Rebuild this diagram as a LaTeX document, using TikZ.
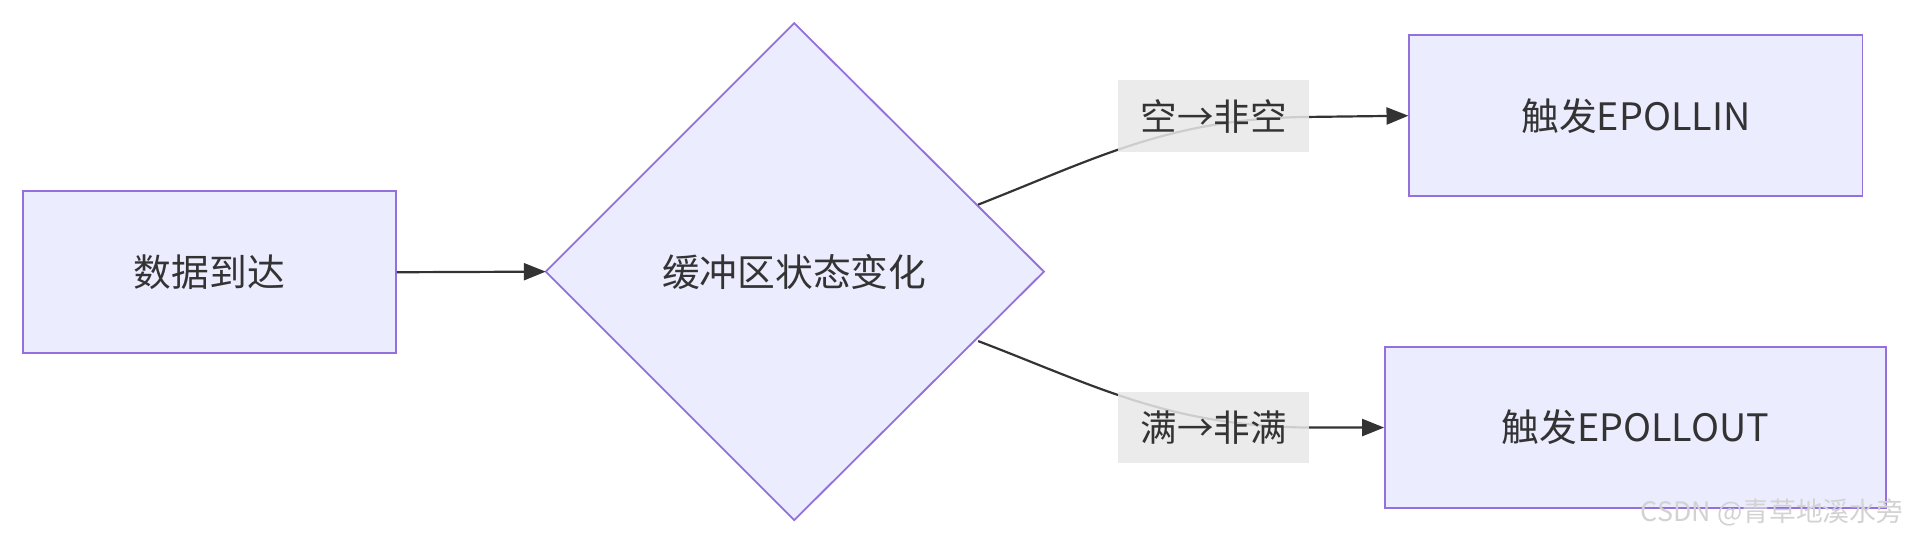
\documentclass[tikz,border=0pt]{standalone}
\usepackage{fontspec}
\setmainfont{Noto Sans CJK SC}
\usetikzlibrary{arrows.meta}
\definecolor{nfill}{HTML}{ECECFF}
\definecolor{nline}{HTML}{9370DB}
\definecolor{ink}{HTML}{333333}
\definecolor{lbg}{HTML}{E8E8E8}
\begin{document}
\begin{tikzpicture}[x=1pt,y=1pt,
  box/.style={draw=nline,fill=nfill,line width=1.5pt,inner sep=0pt,font=\fontsize{31}{36}\selectfont,text=ink},
  lbl/.style={fill=lbg,fill opacity=0.85,text opacity=1,inner sep=0pt,minimum width=157,minimum height=59,font=\fontsize{30}{34}\selectfont,text=ink},
  edge/.style={draw=ink,line width=1.8pt,-{Triangle[length=18pt,width=14pt]}}]
\useasboundingbox (0,0) rectangle (1568,447);
\node[box,minimum width=306,minimum height=133] (a) at (172,223.5) {数据到达};
\fill[nfill] (448,224) -- (652,428) -- (857,224) -- (652,20) -- cycle;
\draw[nline,line width=1.5pt] (448,224) -- (652,428) -- (857,224) -- (652,20) -- cycle;
\node[font=\fontsize{31}{36}\selectfont,text=ink] (d) at (652,224) {缓冲区状态变化};
\coordinate (dl) at (448,224);
\coordinate (d1) at (803,279);
\coordinate (d2) at (803,167);
\node[box,minimum width=372,minimum height=132] (b) at (1343,352) {触发EPOLLIN};
\node[box,minimum width=411,minimum height=132] (c) at (1342.5,96) {触发EPOLLOUT};
\draw[edge] (a.east) -- (dl);
\draw[edge] (d1) .. controls (900,317) and (960,350) .. (1075,351) -- (b.west);
\draw[edge] (d2) .. controls (900,130) and (960,97) .. (1075,96) -- (c.west);
\node[lbl] (l1) at (996.5,351.5) {空→非空};
\node[lbl] (l2) at (996.5,96) {满→非满};
\node[text=gray!35,font=\fontsize{22}{26}\selectfont,anchor=east] (w) at (1566,26) {CSDN @青草地溪水旁};
\end{tikzpicture}
\end{document}
